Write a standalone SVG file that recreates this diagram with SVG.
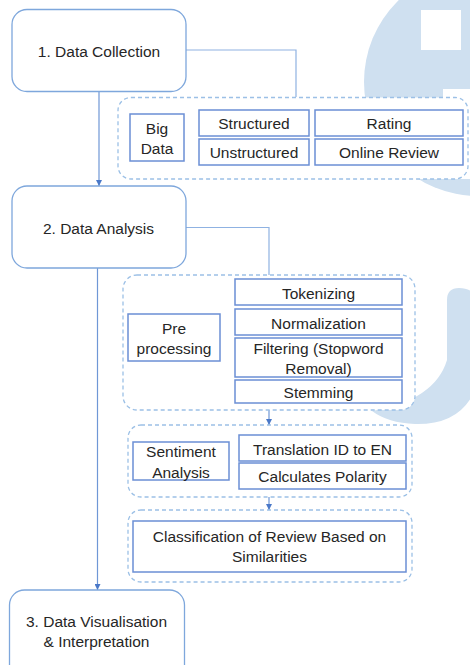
<svg xmlns="http://www.w3.org/2000/svg" width="470" height="665" viewBox="0 0 470 665">
<defs>
<style>
.main{fill:#ffffff;stroke:#7ea7dc;stroke-width:1.3}
.grp{fill:#ffffff;stroke:#9cc0e6;stroke-width:1.3;stroke-dasharray:4 3}
.box{fill:#ffffff;stroke:#6b8fd5;stroke-width:1.5}
.ln{fill:none;stroke:#8fb2e2;stroke-width:1.2}
.arr{fill:none;stroke:#6f97d6;stroke-width:1.2}
.wm{fill:#cfe0f0}
text{font-family:"Liberation Sans",Arial,sans-serif;font-size:15.5px;fill:#262626;text-anchor:middle}
</style>
<marker id="ah" markerWidth="6" markerHeight="6" refX="6" refY="3" orient="auto" markerUnits="userSpaceOnUse">
<path d="M0,0 L6,3 L0,6 Z" fill="#4a78c8"/>
</marker>
</defs>
<rect width="470" height="665" fill="#ffffff"/>
<g id="watermark">
<circle class="wm" cx="478" cy="82" r="114"/>
<rect x="421" y="10" width="40" height="40" fill="#ffffff"/>
<rect x="443" y="89" width="30" height="90" fill="#ffffff"/>
<path class="wm" d="M447,300 Q447,288 459,288 Q471,288 475,296 L475,390 Q460,425 415,424 Q388,423 372,411 Q435,400 447,360 Z"/>
</g>
<g id="connectors">
<polyline class="ln" points="186,50 296,50 296,97"/>
<polyline class="ln" points="186,227.5 269,227.5 269,275"/>
<line class="arr" x1="99" y1="91.5" x2="99" y2="186" marker-end="url(#ah)"/>
<line class="arr" x1="97.5" y1="268" x2="97.5" y2="590" marker-end="url(#ah)"/>
<line class="arr" x1="269" y1="410" x2="269" y2="425" marker-end="url(#ah)"/>
<line class="arr" x1="269" y1="497" x2="269" y2="510" marker-end="url(#ah)"/>
<polyline class="ln" points="184,137 192,137"/>
<polyline class="ln" points="199,123 192,123 192,152 199,152"/>
<line class="ln" x1="309" y1="123" x2="315" y2="123"/>
<line class="ln" x1="309" y1="152" x2="315" y2="152"/>
<line class="ln" x1="220" y1="337" x2="228" y2="337"/>
<polyline class="ln" points="235,292 228,292 228,391 235,391"/>
<line class="ln" x1="228" y1="322" x2="235" y2="322"/>
<line class="ln" x1="228" y1="357" x2="235" y2="357"/>
<line class="ln" x1="229" y1="461" x2="235" y2="461"/>
<polyline class="ln" points="239,449 235,449 235,476 239,476"/>
</g>
<g id="data-collection">
<rect class="main" x="12" y="9.5" width="174" height="82" rx="15"/>
<text x="99" y="57">1. Data Collection</text>
</g>
<g id="group-bigdata">
<rect class="grp" x="118" y="97.5" width="350" height="81.5" rx="13"/>
</g>
<g id="big-data">
<rect class="box" x="130" y="114" width="54" height="47"/>
<text x="157" y="133.5">Big</text>
<text x="157" y="153.5">Data</text>
</g>
<g id="structured">
<rect class="box" x="199" y="110" width="110" height="26"/>
<text x="254" y="128.5">Structured</text>
</g>
<g id="unstructured">
<rect class="box" x="199" y="139" width="110" height="26"/>
<text x="254" y="157.5">Unstructured</text>
</g>
<g id="rating">
<rect class="box" x="315" y="110" width="148" height="26"/>
<text x="389" y="128.5">Rating</text>
</g>
<g id="online-review">
<rect class="box" x="315" y="139" width="148" height="26"/>
<text x="389" y="157.5">Online Review</text>
</g>
<g id="data-analysis">
<rect class="main" x="12" y="186" width="174" height="82" rx="15"/>
<text x="98.5" y="234">2. Data Analysis</text>
</g>
<g id="group-preprocessing">
<rect class="grp" x="123" y="275" width="292" height="135" rx="14"/>
</g>
<g id="preprocessing">
<rect class="box" x="128" y="314" width="92" height="47"/>
<text x="174" y="333.5">Pre</text>
<text x="174" y="354">processing</text>
</g>
<g id="tokenizing">
<rect class="box" x="235" y="279" width="167" height="26"/>
<text x="318.5" y="299">Tokenizing</text>
</g>
<g id="normalization">
<rect class="box" x="235" y="309" width="167" height="26"/>
<text x="318.5" y="328.5">Normalization</text>
</g>
<g id="filtering">
<rect class="box" x="235" y="338" width="167" height="39"/>
<text x="318.5" y="353.5">Filtering (Stopword</text>
<text x="318.5" y="374">Removal)</text>
</g>
<g id="stemming">
<rect class="box" x="235" y="380" width="167" height="23"/>
<text x="318.5" y="397.5">Stemming</text>
</g>
<g id="group-sentiment">
<rect class="grp" x="128" y="425" width="284" height="72" rx="13"/>
</g>
<g id="sentiment-analysis">
<rect class="box" x="133" y="442" width="96" height="38"/>
<text x="181" y="456.5">Sentiment</text>
<text x="181" y="477.5">Analysis</text>
</g>
<g id="translation">
<rect class="box" x="239" y="435" width="167" height="26"/>
<text x="322.5" y="454.5">Translation ID to EN</text>
</g>
<g id="polarity">
<rect class="box" x="239" y="463" width="167" height="26"/>
<text x="322.5" y="481.5">Calculates Polarity</text>
</g>
<g id="group-classification">
<rect class="grp" x="128" y="510" width="284" height="72" rx="13"/>
</g>
<g id="classification">
<rect class="box" x="133" y="521" width="273" height="51"/>
<text x="269.5" y="541.5">Classification of Review Based on</text>
<text x="269.5" y="561.5">Similarities</text>
</g>
<g id="data-visualisation">
<rect class="main" x="9.5" y="590" width="175" height="100" rx="15"/>
<text x="96.5" y="626.5">3. Data Visualisation</text>
<text x="96.5" y="646.5">&amp; Interpretation</text>
</g>
</svg>
